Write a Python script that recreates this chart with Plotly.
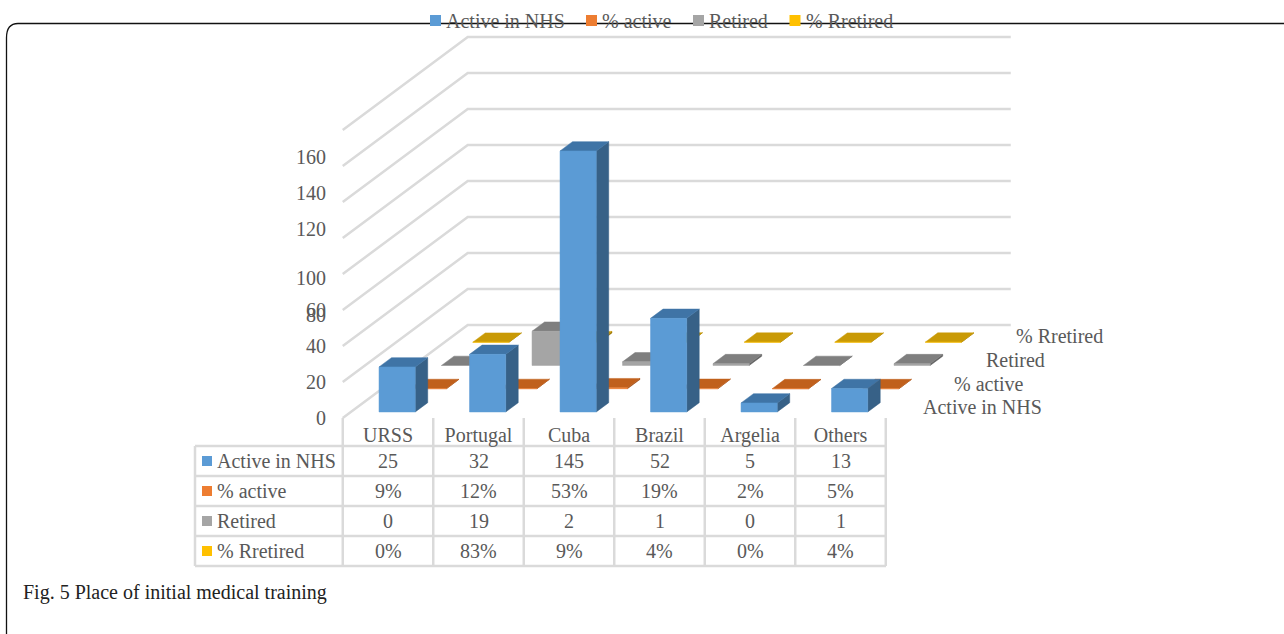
import plotly.graph_objects as go

# ---------- data ----------
categories = ["URSS", "Portugal", "Cuba", "Brazil", "Argelia", "Others"]
series_names = ["Active in NHS", "% active", "Retired", "% Rretired"]
active_nhs = [25, 32, 145, 52, 5, 13]
pct_active = [0.09, 0.12, 0.53, 0.19, 0.02, 0.05]
retired = [0, 19, 2, 1, 0, 1]
pct_retired = [0.00, 0.83, 0.09, 0.04, 0.00, 0.04]
grid_values = [0, 20, 40, 60, 80, 100, 120, 140, 160]
# the reference prints its value labels out of step with the gridlines
y_tick_text = ["0", "20", "40", "60", "80", "100", "120", "140", "160"]
y_tick_at = [0, 20, 40, 60, 57.5, 78, 105, 125, 145]

# ---------- styles ----------
FRONT = ["#5b9bd5", "#ed7d31", "#a5a5a5", "#ffc000"]
TOP = ["#3f74a6", "#c0601c", "#7f7f7f", "#c99a06"]
SIDE = ["#376187", "#9c4d18", "#636363", "#997300"]
TEXT = "#595959"
GRID = "#dadada"
FONT = "Liberation Serif"
W, H = 1284, 634

# ---------- pixel <-> axis scales (plot fills the whole figure) ----------
X0_PX, X_STEP = 388.0, 90.5      # px of category 0, px per category
Y0_PX, Y_STEP = 418.0, 1.8       # px of value 0, px per value unit
DEPTH_DX = 125.0 / X_STEP        # axis shift for the whole floor depth
DEPTH_DY = 93.0 / Y_STEP


def px_x(p):
    return (p - X0_PX) / X_STEP


def px_y(p):
    return (Y0_PX - p) / Y_STEP


def project(x, v, d):
    return x + d * DEPTH_DX, v + d * DEPTH_DY


BAR_W = 0.40
BAR_D = 0.10
BAR_SHIFT = 1 / X_STEP
FIRST_D = 0.065
SERIES_D = 0.25

fig = go.Figure()


def add_line(xs, ys, color=GRID, width=2.5):
    fig.add_trace(go.Scatter(x=xs, y=ys, mode="lines", showlegend=False, hoverinfo="skip",
                             line=dict(color=color, width=width)))


# walls: gridlines run up the left wall and then along the back wall
for v in grid_values:
    fx, fy = project(-0.5, v, 0)
    bx, by = project(-0.5, v, 1)
    ex, ey = project(5.5, v, 1)
    add_line([fx, bx, ex], [fy, by, ey])


def add_faces(xs, ys, color, name):
    fig.add_trace(go.Scatter(x=xs, y=ys, mode="lines", fill="toself", fillcolor=color,
                             line=dict(color=color, width=0.5), name=name,
                             showlegend=False, hoverinfo="skip"))


# bars, back row first
all_series = [active_nhs, pct_active, retired, pct_retired]
for s in reversed(range(4)):
    d0 = FIRST_D + s * SERIES_D
    d1 = d0 + BAR_D
    side_x, side_y, top_x, top_y, front_x, front_y = [], [], [], [], [], []
    for i, v in enumerate(all_series[s]):
        l, r = i - BAR_W / 2 + BAR_SHIFT, i + BAR_W / 2 + BAR_SHIFT
        for target_x, target_y, corners in (
            (side_x, side_y, [(r, 0, d0), (r, 0, d1), (r, v, d1), (r, v, d0)]),
            (top_x, top_y, [(l, v, d0), (r, v, d0), (r, v, d1), (l, v, d1)]),
            (front_x, front_y, [(l, 0, d0), (r, 0, d0), (r, v, d0), (l, v, d0)]),
        ):
            pts = [project(*c) for c in corners]
            target_x += [p[0] for p in pts] + [pts[0][0], None]
            target_y += [p[1] for p in pts] + [pts[0][1], None]
    add_faces(side_x, side_y, SIDE[s], series_names[s] + " side")
    add_faces(top_x, top_y, TOP[s], series_names[s] + " top")
    add_faces(front_x, front_y, FRONT[s], series_names[s])

annotations = []


def label(px, py, text, anchor="left", color=TEXT, size=20):
    annotations.append(dict(x=px_x(px), y=px_y(py), text=text, showarrow=False, xanchor=anchor,
                            yanchor="middle", xref="x", yref="y", borderpad=0,
                            font=dict(family=FONT, size=size, color=color)))


def swatches(pxs, pys, size=10):
    fig.add_trace(go.Scatter(x=[px_x(p) for p in pxs], y=[px_y(p) for p in pys], mode="markers",
                             showlegend=False, hoverinfo="skip",
                             marker=dict(symbol="square", size=size, color=FRONT, line=dict(width=0))))


# depth-axis labels
for name, px, py in zip(series_names, [922, 953, 985, 1015], [407, 384, 360, 336]):
    label(px, py, name)

# data table
row_lines = [446, 476, 506, 536, 566]
row_centres = [461, 491, 521, 551]
for p in row_lines:
    add_line([px_x(195), px_x(886)], [px_y(p), px_y(p)])
add_line([px_x(195), px_x(195)], [px_y(446), px_y(566)])
for i in range(7):
    add_line([i - 0.5, i - 0.5], [px_y(418), px_y(566)])

formats = [str, lambda f: f"{round(f * 100)}%", str, lambda f: f"{round(f * 100)}%"]
for s, py in enumerate(row_centres):
    label(216, py, series_names[s])
    for i, v in enumerate(all_series[s]):
        annotations.append(dict(x=i, y=px_y(py), text=formats[s](v), showarrow=False,
                                xanchor="center", yanchor="middle",
                                font=dict(family=FONT, size=20, color=TEXT)))
swatches([207] * 4, row_centres)

# legend strip at the top
swatches([435.5, 591.5, 698.5, 795], [20.5] * 4, size=11)
for name, px in zip(series_names, [444.5, 600.5, 707.5, 804.5]):
    label(px, 21, name)

# caption
label(21.5, 592, "Fig. 5 Place of initial medical training", color="#222222")


def sx(p):
    return p / W


def sy(p):
    return 1 - p / H


frame = (f"M {sx(1284)} {sy(23.5)} L {sx(18)} {sy(23.5)} "
         f"Q {sx(6.5)} {sy(23.5)} {sx(6.5)} {sy(38)} L {sx(6.5)} {sy(640)}")

fig.update_layout(
    width=W, height=H, margin=dict(l=0, r=0, t=0, b=0),
    paper_bgcolor="white", plot_bgcolor="white", showlegend=False,
    annotations=annotations,
    shapes=[dict(type="path", path=frame, xref="paper", yref="paper", layer="below",
                 line=dict(color="#111111", width=1.3))],
    xaxis=dict(range=[px_x(0), px_x(W)], tickmode="array", tickvals=list(range(6)),
               ticktext=categories, showgrid=False, zeroline=False, showline=False, ticks="",
               anchor="free", position=1 - 421 / H, fixedrange=True,
               tickfont=dict(family=FONT, size=20, color=TEXT)),
    yaxis=dict(range=[px_y(H), px_y(0)], tickmode="array", tickvals=y_tick_at,
               ticktext=y_tick_text, showgrid=False, zeroline=False, showline=False, ticks="",
               anchor="free", position=326 / W, fixedrange=True,
               tickfont=dict(family=FONT, size=20, color=TEXT)),
)

fig.write_html("out.html", config={"displayModeBar": False},
               post_script="document.body.style.margin='0';")
